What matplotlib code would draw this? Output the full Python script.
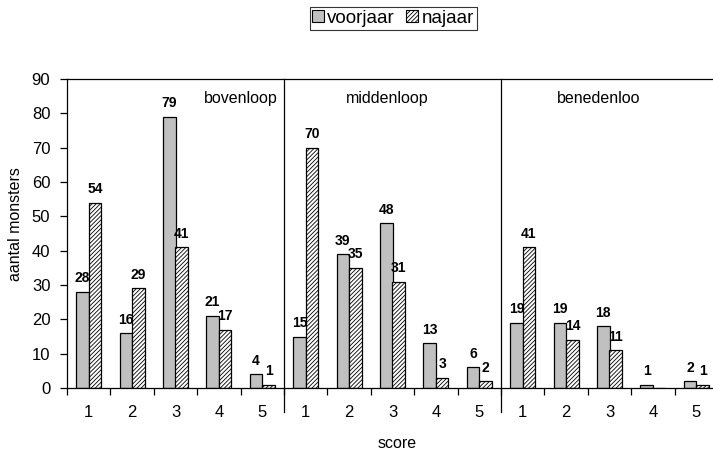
import matplotlib
matplotlib.use('Agg')
import matplotlib.pyplot as plt
from matplotlib.patches import Patch
import numpy as np

plt.rcParams['font.family'] = ['Liberation Sans', 'DejaVu Sans']
plt.rcParams['hatch.linewidth'] = 0.6

# data
sections = ['bovenloop', 'middenloop', 'benedenloo']
scores = ['1', '2', '3', '4', '5']
voorjaar = [28, 16, 79, 21, 4,
            15, 39, 48, 13, 6,
            19, 19, 18, 1, 2]
najaar = [54, 29, 41, 17, 1,
          70, 35, 31, 3, 2,
          41, 14, 11, 0, 1]
najaar_labels = [True] * 13 + [False, True]

fig = plt.figure(figsize=(7.13, 4.57), dpi=100)
W, H = 713, 457
x0, x1, y0, y1 = 67, 718, 388, 79
ax = fig.add_axes([x0 / W, 1 - y0 / H, (x1 - x0) / W, (y0 - y1) / H])

n = len(voorjaar)
x = np.arange(n) + 0.5
bw = 0.29
grey = '#C0C0C0'
hatch = '////////'
ax.bar(x - bw / 2, voorjaar, bw, color=grey, edgecolor='black', linewidth=0.9,
       label='voorjaar')
ax.bar(x + bw / 2, najaar, bw, color='white', edgecolor='black', linewidth=0.9,
       hatch=hatch, label='najaar')

for i in range(n):
    ax.text(x[i] - bw / 2, voorjaar[i] + 1.9, str(voorjaar[i]), ha='center',
            va='bottom', fontsize=10, fontweight='bold')
    if najaar_labels[i]:
        ax.text(x[i] + bw / 2, najaar[i] + 1.9, str(najaar[i]),
                ha='center', va='bottom', fontsize=10, fontweight='bold')

ax.set_xlim(0, n)
ax.set_ylim(0, 90)
ax.set_yticks(range(0, 91, 10))
ax.set_xticks(np.arange(n + 1))
ax.set_xticklabels([])
ax.set_xticks(x, minor=True)
ax.set_xticklabels(scores * 3, minor=True)
ax.tick_params(axis='x', which='major', length=5, direction='out', width=0.9)
ax.tick_params(axis='x', which='minor', length=0, pad=12.5, labelsize=12)
ax.tick_params(axis='y', length=5, direction='out', width=0.9, labelsize=12,
               pad=7)
for s in ax.spines.values():
    s.set_linewidth(0.9)
ax.spines['right'].set_visible(False)

# section dividers extending below the axis
for b in [5, 10]:
    ax.plot([b, b], [90, -7], color='black', lw=0.9, clip_on=False)

sec_x = [4.86, 7.37, 12.26]
for sx, name in zip(sec_x, sections):
    ax.text(sx, 84.3, name, ha='right' if sx < 5 else 'center', va='center',
            fontsize=11.5)

ax.set_xlabel('score', fontsize=11.5)
ax.set_ylabel('aantal monsters', fontsize=11.5)
ax.xaxis.set_label_coords(0.507, -0.155)
ax.yaxis.set_label_coords(-0.068, 0.53)

handles = [Patch(facecolor=grey, edgecolor='black', linewidth=0.8),
           Patch(facecolor='white', edgecolor='black', hatch=hatch,
                 linewidth=0.8)]
leg = fig.legend(handles, ['voorjaar', 'najaar'], loc='upper center',
                 bbox_to_anchor=(393 / W, 1 - 7 / H), ncol=2, fontsize=13.5,
                 frameon=True, fancybox=False, edgecolor='black',
                 handlelength=0.6, handleheight=0.6, handletextpad=0.2,
                 columnspacing=0.6, borderpad=0.15, borderaxespad=0)
leg.get_frame().set_linewidth(0.8)

fig.savefig('out.png', dpi=100)
